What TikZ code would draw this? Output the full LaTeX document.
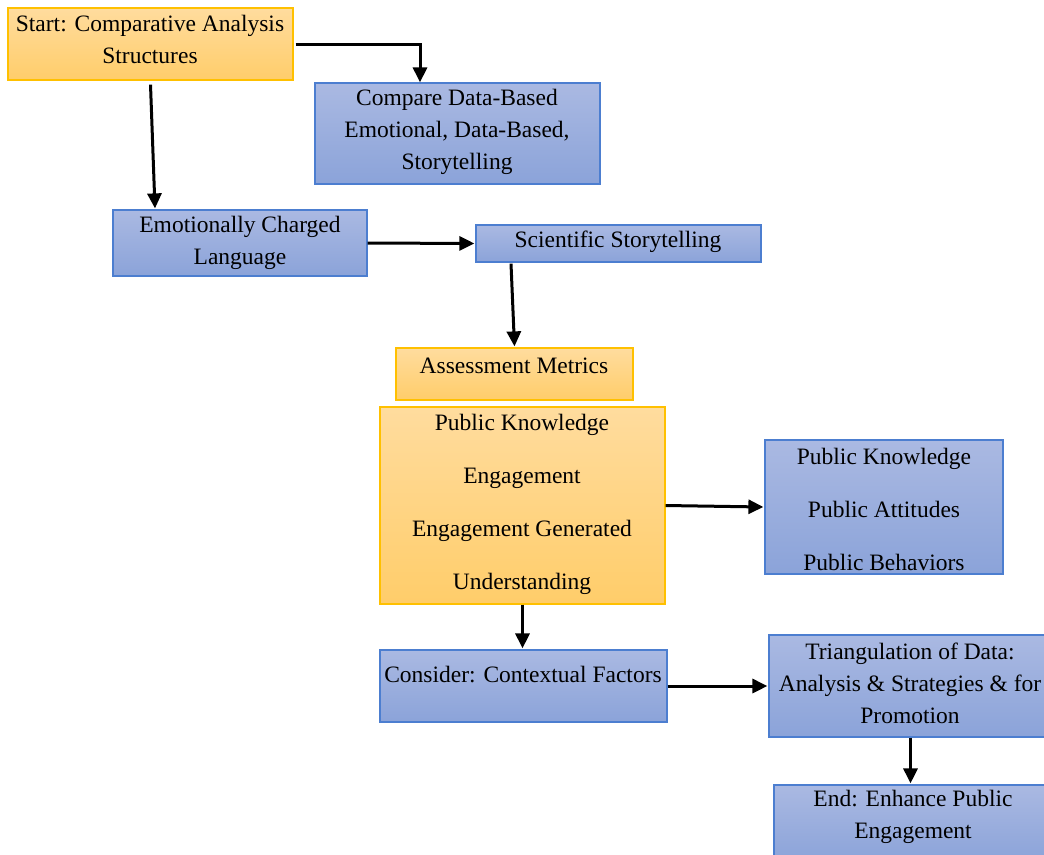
\documentclass[tikz,border=0pt]{standalone}
\usepackage{fontspec}
\setmainfont{Liberation Serif}
\usetikzlibrary{arrows.meta}
\definecolor{otop}{HTML}{FFDC9E}
\definecolor{obot}{HTML}{FFCD6A}
\definecolor{oborder}{HTML}{FFC000}
\definecolor{btop}{HTML}{AAB9E2}
\definecolor{bbot}{HTML}{8BA3D9}
\definecolor{bborder}{HTML}{4C7ED0}
\tikzset{
  obox/.style={rectangle, draw=oborder, line width=1.2pt, top color=otop, bottom color=obot, inner sep=0pt},
  bbox/.style={rectangle, draw=bborder, line width=1.2pt, top color=btop, bottom color=bbot, inner sep=0pt},
  txt/.style={align=center, inner sep=0pt, font=\fontsize{23.5}{32}\selectfont},
  wide/.style={align=center, inner sep=0pt, font=\fontsize{23.5}{53}\selectfont},
  arr/.style={line width=3pt, -{Triangle[length=15pt,width=14pt]}}
}
\begin{document}
\begin{tikzpicture}[x=1pt,y=-1pt]
\useasboundingbox (0,0) rectangle (1044,854);
\clip (0,0) rectangle (1044,854);
\fill[white] (0,0) rectangle (1044,854);
% boxes
\node[obox, minimum width=285pt, minimum height=72pt] (start) at (150.5,44) {};
\node[bbox, minimum width=285pt, minimum height=101pt] (compare) at (457.5,133.5) {};
\node[bbox, minimum width=254pt, minimum height=66pt] (emot) at (240,243) {};
\node[bbox, minimum width=285pt, minimum height=37pt] (sci) at (618.5,243.5) {};
\node[obox, minimum width=237pt, minimum height=52pt] (assess) at (514.5,374) {};
\node[obox, minimum width=285pt, minimum height=197pt] (metrics) at (522.5,505.5) {};
\node[bbox, minimum width=238pt, minimum height=134pt] (outcomes) at (884,507) {};
\node[bbox, minimum width=287pt, minimum height=72pt] (consider) at (523.5,686) {};
\node[bbox, minimum width=283pt, minimum height=102pt] (tri) at (910.5,686) {};
\node[bbox, minimum width=278pt, minimum height=77pt] (end) at (913,823.5) {};
% texts
\node[txt] (tstart) at (150,39.5) {Start: Comparative Analysis\\Structures};
\node[txt] (tcompare) at (457,131.5) {Compare Data-Based\\Emotional, Data-Based,\\Storytelling};
\node[txt] (temot) at (240,242.5) {Emotionally Charged\\Language};
\node[txt] (tsci) at (618,241.5) {Scientific Storytelling};
\node[txt] (tassess) at (514,365.5) {Assessment Metrics};
\node[wide] (tmetrics) at (522,504) {Public Knowledge\\Engagement\\Engagement Generated\\Understanding};
\node[wide] (toutcomes) at (884,509.5) {Public Knowledge\\Public Attitudes\\Public Behaviors};
\node[txt] (tconsider) at (523,674.5) {Consider: Contextual Factors};
\node[txt] (ttri) at (910,683.5) {Triangulation of Data:\\Analysis \& Strategies \& for\\Promotion};
\node[txt] (tend) at (913,816.5) {End: Enhance Public\\Engagement};
% arrows
\draw[arr] ([xshift=2pt]start.east) -| ([xshift=-37.5pt]compare.north);
\draw[arr] ([yshift=-4pt]start.south) -- ([xshift=-85pt,yshift=1pt]emot.north);
\draw[arr] (emot.east) -- ([xshift=-1pt]sci.west);
\draw[arr] ([xshift=-107.5pt,yshift=-1pt]sci.south) -- ([yshift=1pt]assess.north);
\draw[arr] (metrics.east) -- ([xshift=-1pt]outcomes.west);
\draw[arr] (metrics.south) -- ([yshift=1pt]metrics.south |- consider.north);
\draw[arr] (consider.east) -- ([xshift=-1pt]tri.west);
\draw[arr] (tri.south) -- ([yshift=1pt]tri.south |- end.north);
\end{tikzpicture}
\end{document}
